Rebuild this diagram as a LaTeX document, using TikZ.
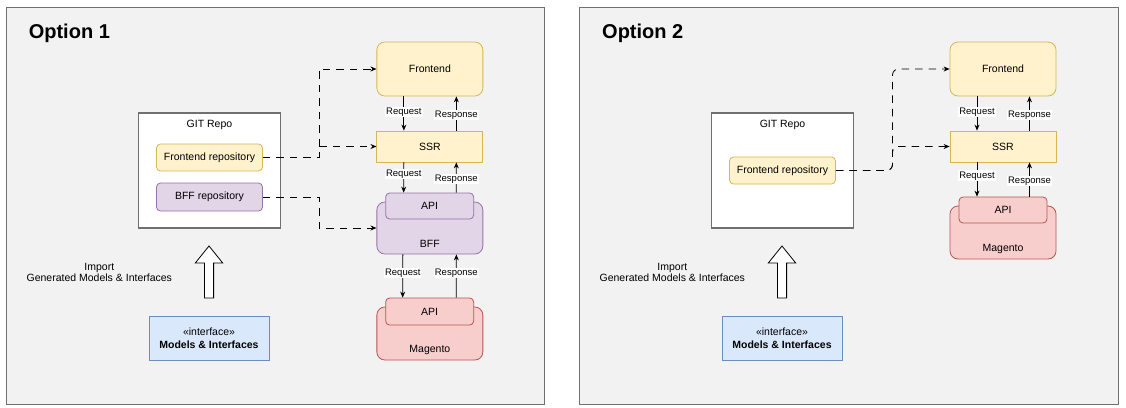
\documentclass[tikz,border=0pt]{standalone}
\usepackage{fontspec}
\setmainfont{Liberation Sans}
\usetikzlibrary{arrows.meta,positioning}
\definecolor{panelfill}{HTML}{F2F2F2}
\definecolor{panelline}{HTML}{707070}
\definecolor{yfill}{HTML}{FFF2CC}
\definecolor{yline}{HTML}{D6B656}
\definecolor{pfill}{HTML}{E1D5E7}
\definecolor{pline}{HTML}{9673A6}
\definecolor{rfill}{HTML}{F8CECC}
\definecolor{rline}{HTML}{B85450}
\definecolor{bfill}{HTML}{DAE8FC}
\definecolor{bline}{HTML}{6C8EBF}

\begin{document}
\begin{tikzpicture}[x=1pt, y=-1pt,
    every node/.style={font=\fontsize{10.5}{12}\selectfont},
    panel/.style={draw=panelline, fill=panelfill, line width=1pt},
    title/.style={anchor=west, inner sep=0pt, font=\fontsize{20}{24}\selectfont\bfseries},
    ybox/.style={draw=yline, fill=yfill, line width=0.8pt},
    pbox/.style={draw=pline, fill=pfill, line width=0.8pt},
    rbox/.style={draw=rline, fill=rfill, line width=0.8pt},
    gitbox/.style={draw=panelline, fill=white, line width=1.2pt, minimum width=142pt, minimum height=115pt},
    repobox/.style={rounded corners=4pt, minimum width=106pt, minimum height=27pt},
    apibox/.style={rounded corners=4pt, minimum width=88pt, minimum height=26pt},
    bigbox/.style={rounded corners=8pt, minimum width=106pt},
    modelbox/.style={draw=bline, fill=bfill, line width=0.8pt, minimum width=120pt, minimum height=44pt, align=center, font=\fontsize{10.5}{13}\selectfont},
    flow/.style={-{Stealth[length=6pt,width=5pt]}, line width=0.8pt},
    dep/.style={flow, dash pattern=on 7.5pt off 6pt},
    lbl/.style={fill=white, inner sep=1pt, font=\fontsize{9.5}{10}\selectfont},
    hollow/.style={draw=black, fill=white, line width=0.8pt}]
  \useasboundingbox (0,0) rectangle (1126,407);

  % Option 1
  \draw[panel] (6.4,7) rectangle (544.6,404);
  \node[title] (title1) at (28.6,33) {Option 1};

  \node[ybox, bigbox, minimum height=54pt] (front1) at (429.85,69) {Frontend};
  \node[ybox, minimum width=106pt, minimum height=31pt] (ssr1) at (429.85,146.5) {SSR};
  \node[pbox, bigbox, minimum height=52pt, label={[anchor=south, yshift=3pt]south:BFF}] (bff1) at (429.85,228) {};
  \node[pbox, apibox] (bapi1) at (429.65,206) {API};
  \node[rbox, bigbox, minimum height=53pt, label={[anchor=south, yshift=2pt]south:Magento}] (mag1) at (429.85,333.5) {};
  \node[rbox, apibox, minimum height=27pt] (mapi1) at (429.65,311.5) {API};

  \draw[flow] ([xshift=-26pt]front1.south) -- node[lbl, pos=0.46] {Request} ([xshift=-26pt]ssr1.north);
  \draw[flow] ([xshift=26.5pt]ssr1.north) -- node[lbl, pos=0.46] {Response} ([xshift=26.5pt]front1.south);
  \draw[flow] ([xshift=-26pt]ssr1.south) -- node[lbl, pos=0.39] {Request} ([xshift=-26pt]bapi1.north);
  \draw[flow] ([xshift=26.5pt]bapi1.north) -- node[lbl, pos=0.45] {Response} ([xshift=26.5pt]ssr1.south);
  \draw[flow] ([xshift=-27pt]bff1.south) -- node[lbl, pos=0.43] {Request} ([xshift=-27pt]mapi1.north);
  \draw[flow] ([xshift=26.5pt]mapi1.north) -- node[lbl, pos=0.57] {Response} ([xshift=26.5pt]bff1.south);

  \node[gitbox, label={[anchor=north, yshift=-4pt]north:GIT Repo}] (git1) at (209.5,170.5) {};
  \node[ybox, repobox] (frepo1) at (209.5,157.5) {Frontend repository};
  \node[pbox, repobox, minimum height=28pt] (brepo1) at (209.5,197) {BFF repository};

  \coordinate (bend1) at (319,0);
  \draw[dep] (frepo1.east) -| (bend1 |- front1.west) -- (front1.west);
  \draw[dep] (frepo1.east) -| (bend1 |- ssr1.west) -- (ssr1.west);
  \draw[dep] (brepo1.east) -| (bend1 |- bff1.west) -- (bff1.west);

  \draw[hollow] (204.4,298) -- (204.4,263) -- (195.3,263) -- (209,246) -- (222.7,263) -- (213.6,263) -- (213.6,298) -- cycle;
  \node[align=center, font=\fontsize{10.5}{11}\selectfont] (import1) at (99.3,272) {Import\\Generated Models \& Interfaces};
  \node[modelbox] (models1) at (209,338) {«interface»\\\textbf{Models \& Interfaces}};

  % Option 2
  \draw[panel] (579.5,7) rectangle (1118,404);
  \node[title] (title2) at (602,33) {Option 2};

  \node[ybox, bigbox, minimum height=54pt] (front2) at (1003,69) {Frontend};
  \node[ybox, minimum width=106pt, minimum height=31pt] (ssr2) at (1003,146.5) {SSR};
  \node[rbox, bigbox, minimum height=53pt, label={[anchor=south, yshift=2pt]south:Magento}] (mag2) at (1003,232.5) {};
  \node[rbox, apibox] (mapi2) at (1003,210) {API};

  \draw[flow] ([xshift=-26pt]front2.south) -- node[lbl, pos=0.46] {Request} ([xshift=-26pt]ssr2.north);
  \draw[flow] ([xshift=26.5pt]ssr2.north) -- node[lbl, pos=0.46] {Response} ([xshift=26.5pt]front2.south);
  \draw[flow] ([xshift=-26pt]ssr2.south) -- node[lbl, pos=0.39] {Request} ([xshift=-26pt]mapi2.north);
  \draw[flow] ([xshift=26.5pt]mapi2.north) -- node[lbl, pos=0.45] {Response} ([xshift=26.5pt]ssr2.south);

  \node[gitbox, label={[anchor=north, yshift=-4pt]north:GIT Repo}] (git2) at (782.5,170.5) {};
  \node[ybox, repobox] (frepo2) at (782.5,170.5) {Frontend repository};

  \coordinate (bend2) at (892.5,0);
  \draw[dep, rounded corners=6pt] (frepo2.east) -| (bend2 |- front2.west) -- (front2.west);
  \draw[dep, rounded corners=6pt] (frepo2.east) -| (bend2 |- ssr2.west) -- (ssr2.west);

  \draw[hollow] (777.4,298) -- (777.4,263) -- (768.3,263) -- (782,246) -- (795.7,263) -- (786.6,263) -- (786.6,298) -- cycle;
  \node[align=center, font=\fontsize{10.5}{11}\selectfont] (import2) at (672.3,272) {Import\\Generated Models \& Interfaces};
  \node[modelbox] (models2) at (782,338) {«interface»\\\textbf{Models \& Interfaces}};
\end{tikzpicture}
\end{document}
